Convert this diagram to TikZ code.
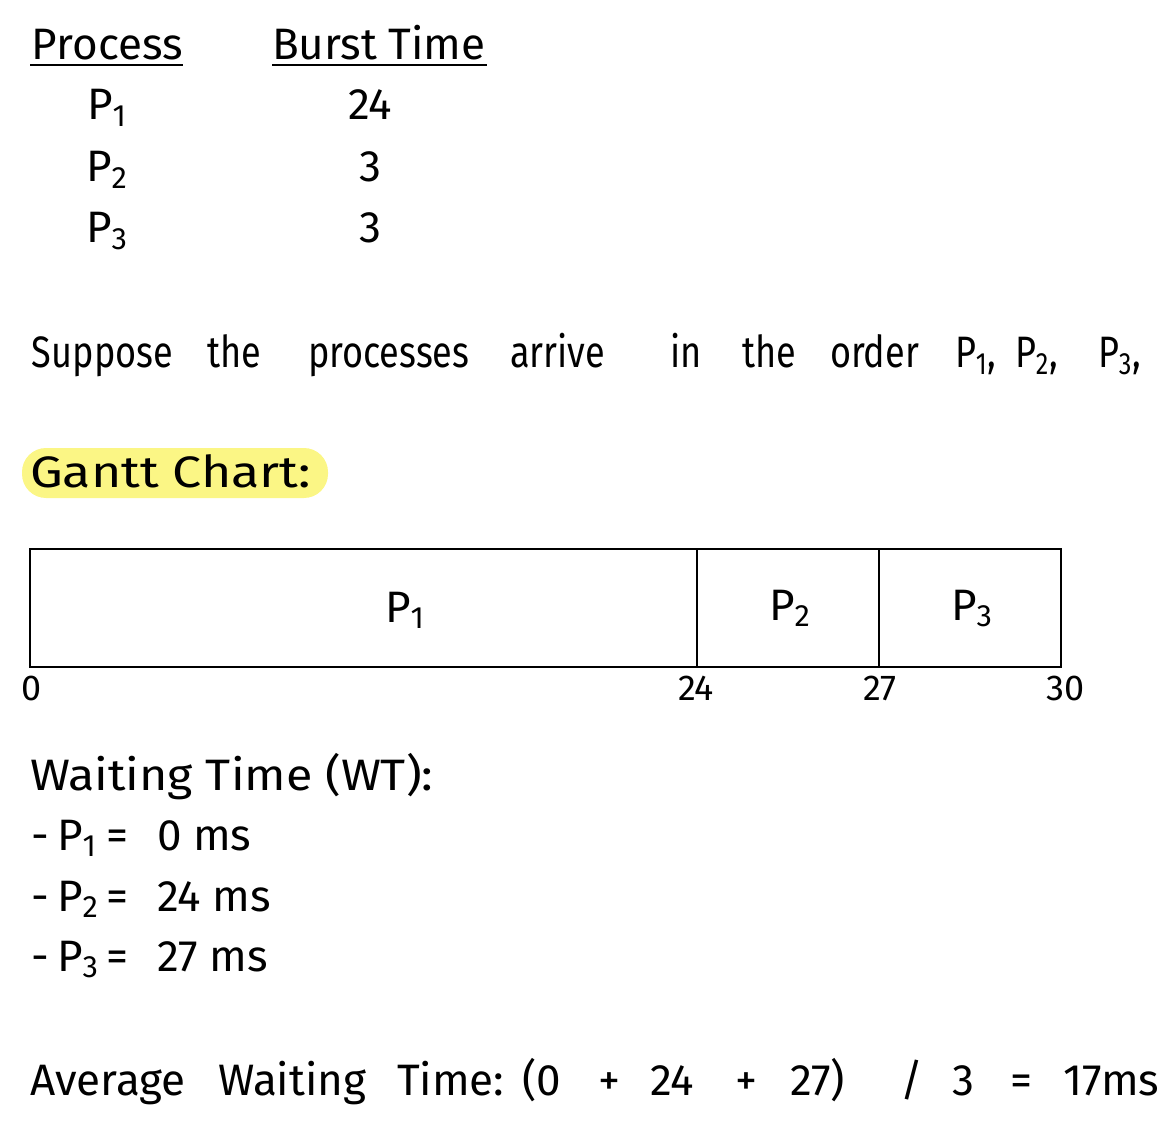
\documentclass[tikz,border=0pt]{standalone}
\usepackage{fontspec}
\setmainfont{Fira Sans}
\usetikzlibrary{positioning}
\definecolor{hilite}{HTML}{FBF685}
\newcommand{\pp}[1]{P\textsubscript{#1}}
\tikzset{
  txt/.style={inner sep=0pt, outer sep=0pt, font=\fontsize{22}{26}\selectfont},
  lft/.style={txt, anchor=base west},
  mid/.style={txt, anchor=base},
  narrow/.style={lft, xscale=0.82, transform shape},
  wide/.style={lft, xscale=#1, transform shape},
  tick/.style={txt, anchor=base, font=\fontsize{18}{22}\selectfont}
}

\begin{document}
\begin{tikzpicture}[x=0.5pt,y=-0.5pt]
\useasboundingbox (0,0) rectangle (1176,1122);
% table
\node[lft] (hproc) at (32,60) {Process};
\node[lft] (hburst) at (272,60) {Burst Time};
\draw[line width=1.4pt] (30,65) -- (183,65);
\draw[line width=1.4pt] (272,65) -- (487,65);
\foreach \i/\b/\y in {1/24/120, 2/3/182, 3/3/243} {
  \node[mid] (tp\i) at (107,\y) {\pp{\i}};
  \node[mid] (tb\i) at (370,\y) {\b};
}
% sentence
\foreach \w/\x [count=\i] in {Suppose/32, the/207, processes/308, arrive/510, in/670, the/742, order/830, {\pp{1},}/955, {\pp{2},}/1015, {\pp{3},}/1098}
  \node[narrow] (sw\i) at (\x,368) {\w};
% gantt heading
\fill[hilite, rounded corners=12pt] (22,448) rectangle (328,498);
\node[wide=1.18] (ghead) at (30,487) {Gantt Chart:};
% gantt chart
\draw[line width=1.2pt] (30,549) rectangle (1061,667);
\draw[line width=0.9pt] (697,549) -- (697,667);
\draw[line width=0.9pt] (879,549) -- (879,667);
\node[mid] (g1) at (405,622) {\pp{1}};
\node[mid] (g2) at (790,620) {\pp{2}};
\node[mid] (g3) at (972,620) {\pp{3}};
\foreach \t/\x in {0/32, 24/696, 27/880, 30/1066}
  \node[tick] (t\t) at (\x,700) {\t};
% waiting time
\node[wide=1.1] (wthead) at (30,790) {Waiting Time (WT):};
\foreach \i/\v/\y in {1/0/850, 2/24/911, 3/27/971} {
  \node[lft] (wp\i) at (32,\y) {-\,\pp{\i}};
  \node[mid] (we\i) at (117,\y) {=};
  \node[lft] (wv\i) at (157,\y) {\v\ ms};
}
% average
\foreach \w/\x [count=\i] in {{Average}/30, {Waiting}/218, {Time:}/397, {(0}/522, {+}/598, {24}/650, {+}/735, {27)}/790, {/}/900, {3}/952, {=}/1010, {17ms}/1063}
  \node[lft] (aw\i) at (\x,1095) {\w};
\end{tikzpicture}
\end{document}
